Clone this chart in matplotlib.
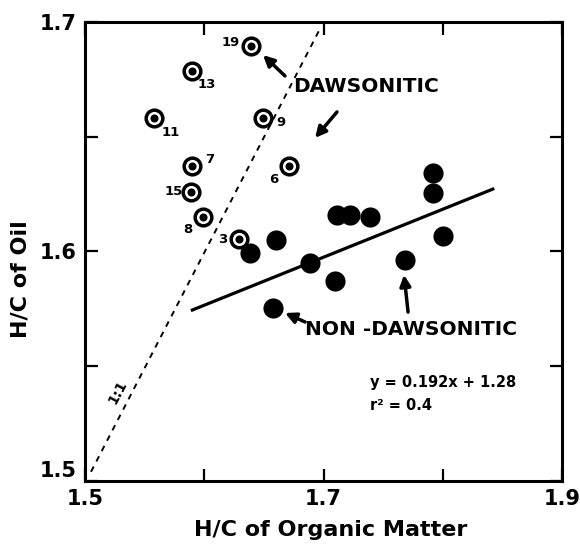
import matplotlib.pyplot as plt
from matplotlib.ticker import FixedLocator

# dawsonitic samples (ringed symbols) with sample numbers
daw_x = [1.639, 1.590, 1.558, 1.649, 1.590, 1.671, 1.589, 1.599, 1.629]
daw_y = [1.6895, 1.6788, 1.6580, 1.6580, 1.6374, 1.6374, 1.6261, 1.6152, 1.6053]
daw_labels = ['19', '13', '11', '9', '7', '6', '15', '8', '3']

# non-dawsonitic samples (solid symbols)
non_x = [1.638, 1.660, 1.689, 1.710, 1.658, 1.711, 1.722, 1.739, 1.768, 1.792, 1.792, 1.800]
non_y = [1.5992, 1.6050, 1.5949, 1.5871, 1.5752, 1.6159, 1.6159, 1.6152, 1.5963, 1.6343, 1.6254, 1.6068]

# fitted line as drawn, and the 1:1 line
fit_x = [1.590, 1.842]
fit_y = [1.5745, 1.6272]
ref_x = [1.505, 1.697]
ref_y = [1.504, 1.697]

x_ticks = [1.5, 1.7, 1.9]
y_ticks = [1.5, 1.6, 1.7]

plt.rcParams['font.family'] = ['DejaVu Sans']
plt.rcParams['font.weight'] = 'bold'

fig = plt.figure(figsize=(5.8, 5.49), dpi=100)
ax = fig.add_axes([0.1466, 0.1239, 0.8224, 0.836])

ax.plot(ref_x, ref_y, color='k', lw=1.4, ls=(0, (3, 3)))
ax.plot(fit_x, fit_y, color='k', lw=2.3)

ax.plot(non_x, non_y, 'o', color='k', ms=14.5, mew=0)
ax.plot(daw_x, daw_y, 'o', mfc='white', mec='k', ms=12, mew=2.5)
ax.plot(daw_x, daw_y, 'o', color='k', ms=5.8, mew=0)

# sample number offsets in pixels
offs = [(-20, 4), (14, -14), (16, -14), (18, -4), (17, 6), (-15, -14), (-17, 0), (-15, -13), (-16, 0)]
for x, y, lab, o in zip(daw_x, daw_y, daw_labels, offs):
    ax.annotate(lab, (x, y), xytext=o, textcoords='offset pixels',
                ha='center', va='center', fontsize=9.5, fontweight='bold')

arrow = dict(arrowstyle='-|>', lw=2.5, color='k', mutation_scale=16, shrinkA=0, shrinkB=0)
ax.text(1.6744, 1.6717, 'DAWSONITIC', fontsize=14.5, fontweight='bold', va='center')
ax.annotate('', xy=(1.6493, 1.6856), xytext=(1.6677, 1.6765), arrowprops=arrow)
ax.annotate('', xy=(1.6929, 1.6495), xytext=(1.7113, 1.6608), arrowprops=arrow)

ax.text(1.6845, 1.5658, 'NON -DAWSONITIC', fontsize=14.5, fontweight='bold', va='center')
ax.annotate('', xy=(1.6677, 1.5732), xytext=(1.6845, 1.5693), arrowprops=arrow)
ax.annotate('', xy=(1.7675, 1.5898), xytext=(1.7709, 1.5736), arrowprops=arrow)

ax.text(1.739, 1.5427, 'y = 0.192x + 1.28', fontsize=10.5, fontweight='bold', va='center')
ax.text(1.739, 1.5331, 'r² = 0.4', fontsize=10.5, fontweight='bold', va='center')
ax.text(1.5277, 1.5388, '1:1', fontsize=10, fontweight='bold', rotation=62,
        ha='center', va='center')

ax.set_xlim(1.5, 1.9)
ax.set_ylim(1.5, 1.7)
ax.set_xticks(x_ticks)
ax.set_yticks(y_ticks)
ax.xaxis.set_minor_locator(FixedLocator([1.6, 1.8]))
ax.yaxis.set_minor_locator(FixedLocator([1.55, 1.65]))
ax.tick_params(which='both', direction='in', top=True, right=True, length=9, width=1.6)
ax.tick_params(axis='both', which='major', labelsize=15, pad=6)
for s in ax.spines.values():
    s.set_linewidth(2.2)
for t in ax.get_xticklabels() + ax.get_yticklabels():
    t.set_fontweight('bold')
ax.get_yticklabels()[0].set_va('bottom')

ax.set_xlabel('H/C of Organic Matter', fontsize=16, fontweight='bold')
ax.set_ylabel('H/C of Oil', fontsize=16, fontweight='bold')
ax.xaxis.set_label_coords(0.514, -0.085)
ax.yaxis.set_label_coords(-0.115, 0.44)

fig.savefig('out.png', dpi=100)
